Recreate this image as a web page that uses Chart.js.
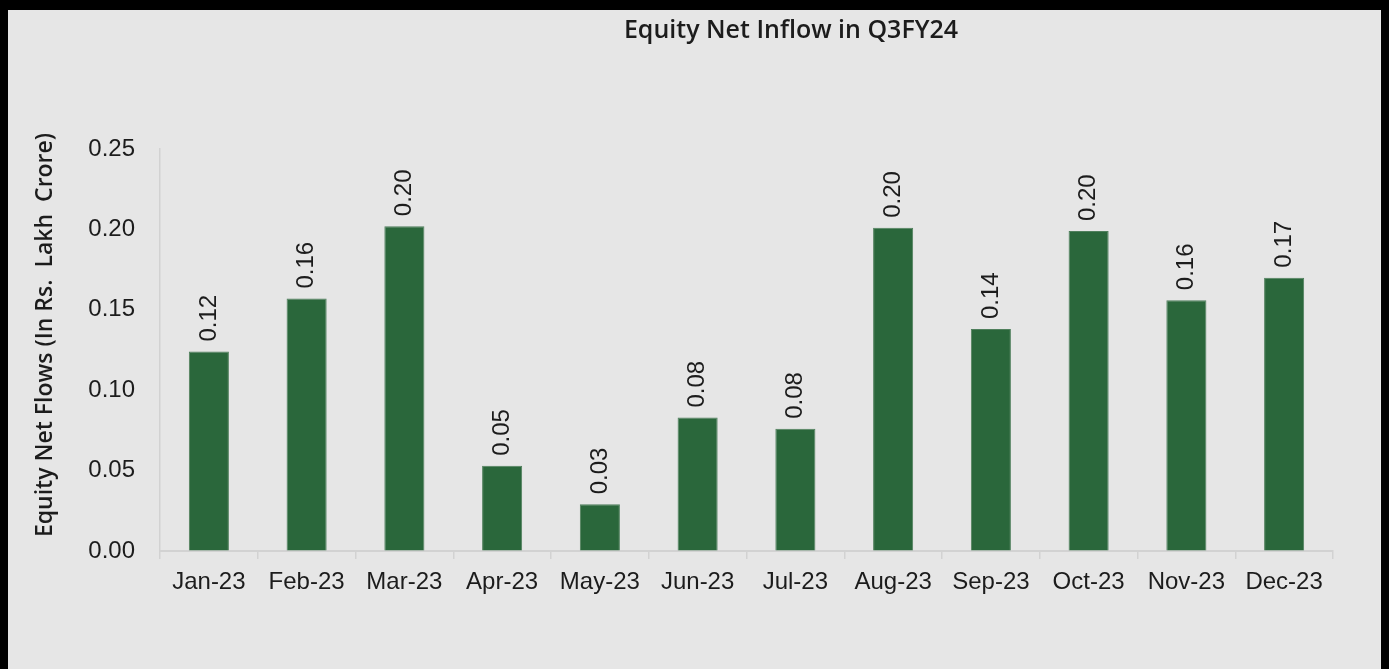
<!DOCTYPE html>
<html>
<head>
<meta charset="utf-8">
<title>Equity Net Inflow in Q3FY24</title>
<script src="https://cdn.jsdelivr.net/npm/chart.js@4.4.1/dist/chart.umd.min.js"></script>
<style>
    html, body { margin: 0; padding: 0; background: #e6e6e6; overflow: hidden; }
    #frame {
        position: absolute; left: 0; top: 0;
        width: 1389px; height: 669px; box-sizing: border-box;
        border-top: 10px solid #000; border-left: 8px solid #000; border-right: 8px solid #000;
        background: #e6e6e6;
    }
    #frame canvas { display: block; }
</style>
</head>
<body>
<div id="frame">
    <canvas id="flowChart" width="1373" height="659"></canvas>
</div>
<script>
// -------------------------------
// DATA
// -------------------------------
const months = ["Jan-23", "Feb-23", "Mar-23", "Apr-23", "May-23", "Jun-23",
                "Jul-23", "Aug-23", "Sep-23", "Oct-23", "Nov-23", "Dec-23"];
const netInflow = [0.124, 0.157, 0.202, 0.053, 0.029, 0.083,
                   0.076, 0.201, 0.138, 0.199, 0.156, 0.170];
const yTicks = [0.00, 0.05, 0.10, 0.15, 0.20, 0.25];

const chartTitle = "Equity Net Inflow in Q3FY24";
const yTitle = "Equity Net Flows (In Rs.  Lakh  Crore)";

const barGreen = "#2a673b";
const textColor = "#1c1c1c";
const axisGray = "#d2d2d2";

// -------------------------------
// PLUGINS
// -------------------------------
// both titles sit off-centre in the original, so draw them ourselves
const titlePlugin = {
    id: "titles",
    afterDraw(chart) {
        const ctx = chart.ctx;
        ctx.save();
        ctx.fillStyle = textColor;
        ctx.textAlign = "center";
        ctx.textBaseline = "middle";

        ctx.font = "600 25px 'Open Sans'";
        ctx.fillText(chartTitle, 783, 21);

        ctx.font = "600 23px 'Open Sans'";
        ctx.translate(37, 325);
        ctx.rotate(-Math.PI / 2);
        ctx.fillText(yTitle, 0, 0);
        ctx.restore();
    }
};

// rotated value labels above each bar
const valueLabels = {
    id: "valueLabels",
    afterDatasetsDraw(chart) {
        const ctx = chart.ctx;
        const meta = chart.getDatasetMeta(0);
        ctx.save();
        ctx.font = "24px 'Liberation Sans'";
        ctx.fillStyle = textColor;
        ctx.textAlign = "left";
        ctx.textBaseline = "middle";
        meta.data.forEach((bar, i) => {
            ctx.save();
            ctx.translate(bar.x, bar.y - 10);
            ctx.rotate(-Math.PI / 2);
            ctx.fillText(netInflow[i].toFixed(2), 0, 0);
            ctx.restore();
        });
        ctx.restore();
    }
};

// -------------------------------
// CHART
// -------------------------------
const ctx = document.getElementById("flowChart");

new Chart(ctx, {
    type: "bar",
    data: {
        labels: months,
        datasets: [{
            label: "Equity Net Inflow",
            data: netInflow,
            backgroundColor: barGreen,
            borderColor: "#4f7f5c",
            borderWidth: 1,
            categoryPercentage: 1,
            barPercentage: 0.41
        }]
    },
    options: {
        responsive: false,
        animation: false,
        devicePixelRatio: 1,
        layout: { padding: { left: 0, top: 139, right: 48, bottom: 0 } },
        plugins: {
            legend: { display: false },
            title: { display: false },
            tooltip: { enabled: false }
        },
        scales: {
            x: {
                afterFit: s => { s.height = 118; },
                grid: {
                    offset: true,
                    drawOnChartArea: false,
                    drawTicks: true,
                    tickLength: 8,
                    color: axisGray,
                    lineWidth: 1.5
                },
                border: { display: true, color: axisGray, width: 2 },
                ticks: {
                    color: textColor,
                    font: { family: "'Liberation Sans'", size: 24 },
                    padding: 9,
                    maxRotation: 0,
                    autoSkip: false
                }
            },
            y: {
                min: 0,
                max: 0.25,
                afterFit: s => { s.width = 152; },
                afterBuildTicks: s => { s.ticks = yTicks.map(v => ({ value: v })); },
                grid: { drawOnChartArea: false, drawTicks: false },
                border: { display: true, color: axisGray, width: 1.5 },
                ticks: {
                    color: textColor,
                    font: { family: "'Liberation Sans'", size: 24 },
                    padding: 25,
                    callback: v => v.toFixed(2)
                }
            }
        }
    },
    plugins: [titlePlugin, valueLabels]
});
</script>
</body>
</html>
